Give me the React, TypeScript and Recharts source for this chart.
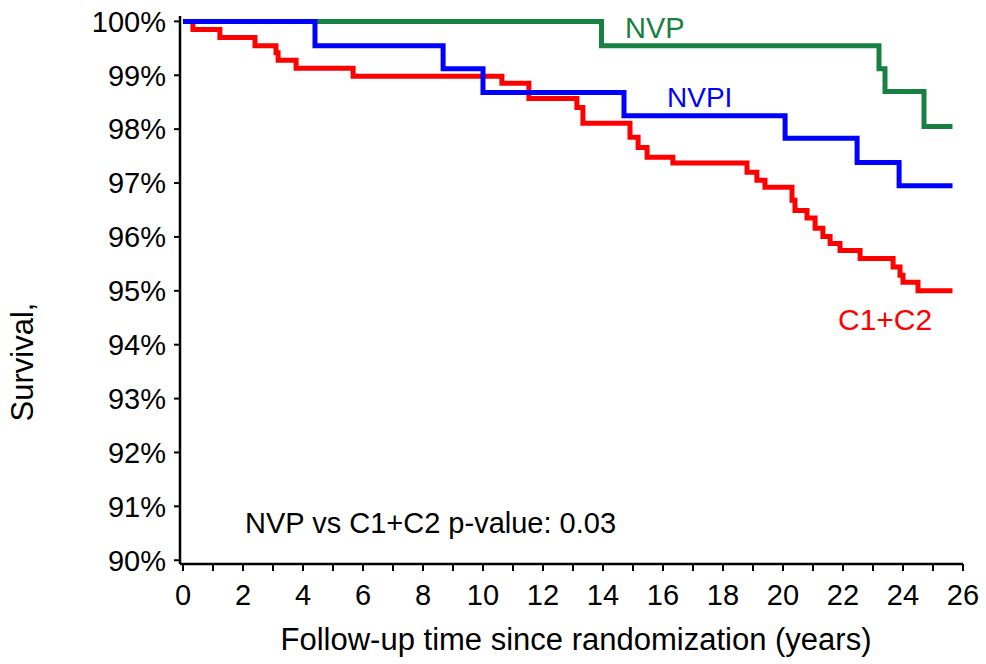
import React from 'react';
import { LineChart, Line, XAxis, YAxis } from 'recharts';

// Kaplan-Meier step curves (time in years, survival in %)
const nvpTimes = [0, 13.95, 23.2, 23.4, 24.7, 25.65];
const nvpSurv = [100, 99.55, 99.12, 98.7, 98.05, 98.05];

const nvpiTimes = [0, 4.4, 8.67, 10.0, 14.7, 20.07, 22.47, 23.87, 25.65];
const nvpiSurv = [100, 99.55, 99.12, 98.68, 98.25, 97.83, 97.38, 96.95, 96.95];

const c12Times = [
  0, 0.33, 1.23, 2.4, 3.1, 3.17, 3.77, 5.67, 10.63, 11.53, 13.13, 13.33, 14.9, 15.17,
  15.47, 16.33, 18.8, 19.13, 19.4, 20.3, 20.4, 20.8, 21.07, 21.33, 21.57, 21.9, 22.57,
  23.67, 23.9, 24.0, 24.5, 25.65,
];
const c12Surv = [
  100, 99.85, 99.7, 99.55, 99.42, 99.28, 99.13, 98.98, 98.85, 98.57, 98.4, 98.11, 97.85,
  97.66, 97.48, 97.37, 97.2, 97.05, 96.92, 96.68, 96.49, 96.35, 96.16, 96.01, 95.88,
  95.75, 95.6, 95.44, 95.29, 95.16, 95.0, 95.0,
];

const xTicks = [0, 1, 2, 3, 4, 5, 6, 7, 8, 9, 10, 11, 12, 13, 14, 15, 16, 17, 18, 19, 20, 21, 22, 23, 24, 25, 26];
const yTicks = [90, 91, 92, 93, 94, 95, 96, 97, 98, 99, 100];

const toRows = (t: number[], s: number[]) => t.map((v, i) => ({ t: v, s: s[i] }));

const nvpData = toRows(nvpTimes, nvpSurv);
const nvpiData = toRows(nvpiTimes, nvpiSurv);
const c12Data = toRows(c12Times, c12Surv);

const FONT = '"Liberation Sans", Arial, sans-serif';
const GREEN = '#188040';
const BLUE = '#0000ff';
const RED = '#ff0000';

export default function App() {
  return (
    <div style={{ position: 'absolute', left: 0, top: 0, width: 986, height: 664, background: '#fff', fontFamily: FONT }}>
      <LineChart width={986} height={664} margin={{ top: 16, right: 23, bottom: 0, left: 0 }}>
        <XAxis
          type="number"
          dataKey="t"
          domain={[-0.1, 26]}
          ticks={xTicks}
          interval={0}
          allowDataOverflow
          tickFormatter={(v: number) => (v % 2 === 0 ? String(v) : '')}
          height={100}
          tickSize={7}
          tickMargin={13}
          stroke="#000"
          axisLine={{ stroke: '#000', strokeWidth: 2.5 }}
          tickLine={{ stroke: '#000', strokeWidth: 2 }}
          tick={{ fill: '#000', fontSize: 29, fontFamily: FONT }}
        />
        <YAxis
          type="number"
          domain={[89.93, 100.1]}
          ticks={yTicks}
          interval={0}
          allowDataOverflow
          tickFormatter={(v: number) => `${v}%`}
          width={180}
          tickSize={6}
          tickMargin={8}
          stroke="#000"
          axisLine={{ stroke: '#000', strokeWidth: 2.5 }}
          tickLine={{ stroke: '#000', strokeWidth: 2 }}
          tick={{ fill: '#000', fontSize: 29, fontFamily: FONT }}
        />
        <Line data={nvpData} dataKey="s" type="stepAfter" stroke={GREEN} strokeWidth={5} dot={false} activeDot={false} isAnimationActive={false} />
        <Line data={c12Data} dataKey="s" type="stepAfter" stroke={RED} strokeWidth={5} dot={false} activeDot={false} isAnimationActive={false} />
        <Line data={nvpiData} dataKey="s" type="stepAfter" stroke={BLUE} strokeWidth={5} dot={false} activeDot={false} isAnimationActive={false} />
      </LineChart>
      <svg width={986} height={664} style={{ position: 'absolute', left: 0, top: 0, pointerEvents: 'none' }}>
        <text x={625} y={38} fill={GREEN} fontSize={29} fontFamily={FONT}>NVP</text>
        <text x={667} y={107} fill={BLUE} fontSize={28} fontFamily={FONT}>NVPI</text>
        <text x={838} y={330} fill={RED} fontSize={30} fontFamily={FONT}>C1+C2</text>
        <text x={245} y={533} fill="#000" fontSize={29} fontFamily={FONT}>NVP vs C1+C2 p-value: 0.03</text>
        <text x={576} y={650} fill="#000" fontSize={31} fontFamily={FONT} textAnchor="middle">Follow-up time since randomization (years)</text>
        <text transform="translate(33, 362) rotate(-90)" fill="#000" fontSize={31} fontFamily={FONT} textAnchor="middle">Survival,</text>
      </svg>
    </div>
  );
}
